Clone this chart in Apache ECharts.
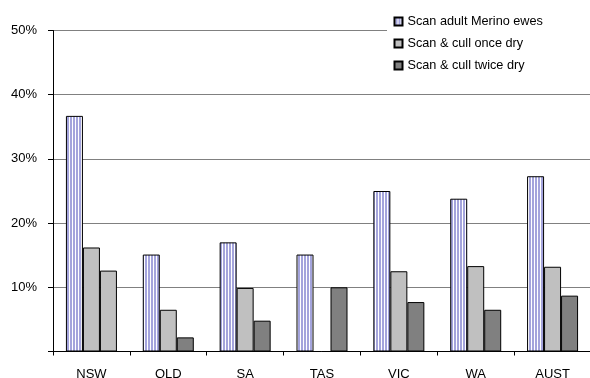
<!DOCTYPE html>
<html>
<head>
<meta charset="utf-8">
<script src="https://cdn.jsdelivr.net/npm/echarts@6/dist/echarts.min.js"></script>
<style>
  html, body { margin: 0; padding: 0; background: #fff; }
  #chart { width: 590px; height: 378px; }
</style>
</head>
<body>
<div id="chart"></div>
<script>
// Pregnancy scanning uptake by state (% of flocks)
var categories = ['NSW', 'QLD', 'SA', 'TAS', 'VIC', 'WA', 'AUST'];
var scanAdult  = [36.7, 15.1, 17.0, 15.1, 25.0, 23.8, 27.3];
var cullOnce   = [16.2, 6.5, 9.9, null, 12.5, 13.3, 13.2];
var cullTwice  = [12.6, 2.2, 4.8, 10.0, 7.7, 6.5, 8.7];
var seriesNames = ['Scan adult Merino ewes', 'Scan & cull once dry', 'Scan & cull twice dry'];
var yTicks = [0, 10, 20, 30, 40, 50];

var FONT = 'Liberation Sans, Arial, sans-serif';

// vertical stripe fill for the first series
function stripePattern() {
  var c = document.createElement('canvas');
  c.width = 3; c.height = 4;
  var ctx = c.getContext('2d');
  ctx.fillStyle = '#ffffff';
  ctx.fillRect(0, 0, 3, 4);
  ctx.fillStyle = '#a4a4dc';
  ctx.fillRect(1, 0, 2, 4);
  return c;
}
var stripes = { image: stripePattern(), repeat: 'repeat' };

var chart = echarts.init(document.getElementById('chart'), null, { renderer: 'canvas' });

function toData(arr, overrides) {
  return arr.map(function (v, i) {
    if (v === null) return '-';
    if (overrides && overrides[i]) return { value: v, itemStyle: overrides[i] };
    return v;
  });
}

var barBorder = { borderColor: '#000', borderWidth: 1 };

chart.setOption({
  animation: false,
  backgroundColor: '#fff',
  textStyle: { fontFamily: FONT },
  grid: {
    left: 53, top: 30.5, width: 538, bottom: 26.5,
    containLabel: false, outerBoundsMode: 'none'
  },
  legend: {
    orient: 'vertical',
    left: 387, top: 9,
    padding: [6, 60, 6, 6.5],
    backgroundColor: '#fff',
    itemWidth: 8, itemHeight: 8,
    itemGap: 9,
    icon: 'rect',
    selectedMode: false,
    textStyle: { fontFamily: FONT, fontSize: 12.7, color: '#000' },
    data: seriesNames
  },
  xAxis: {
    type: 'category',
    data: categories,
    axisLine: { lineStyle: { color: '#000', width: 1 } },
    axisTick: { show: true, length: 4, lineStyle: { color: '#000' } },
    axisLabel: { color: '#000', fontFamily: FONT, fontSize: 13, margin: 16.5 },
    splitLine: { show: false }
  },
  yAxis: {
    type: 'value',
    min: yTicks[0], max: yTicks[yTicks.length - 1], interval: 10,
    axisLine: { show: true, lineStyle: { color: '#000', width: 1 } },
    axisTick: { show: true, length: 5, lineStyle: { color: '#000' } },
    axisLabel: {
      color: '#000', fontFamily: FONT, fontSize: 13, margin: 16,
      padding: [5, 0, 0, 0],
      formatter: function (v) { return v === 0 ? '' : v + '%'; }
    },
    splitLine: { show: true, lineStyle: { color: '#808080', width: 1 } }
  },
  series: [
    {
      name: seriesNames[0], type: 'bar', data: toData(scanAdult),
      barWidth: 17, barGap: '0%', barCategoryGap: '32%',
      itemStyle: Object.assign({ color: stripes }, barBorder)
    },
    {
      name: seriesNames[1], type: 'bar', data: toData(cullOnce),
      barWidth: 17, barGap: '0%',
      itemStyle: Object.assign({ color: '#c0c0c0' }, barBorder)
    },
    {
      name: seriesNames[2], type: 'bar',
      data: toData(cullTwice, { 0: { color: '#c0c0c0', borderColor: '#000', borderWidth: 1 } }),
      barWidth: 17, barGap: '0%',
      itemStyle: Object.assign({ color: '#808080' }, barBorder)
    }
  ]
});
</script>
</body>
</html>
